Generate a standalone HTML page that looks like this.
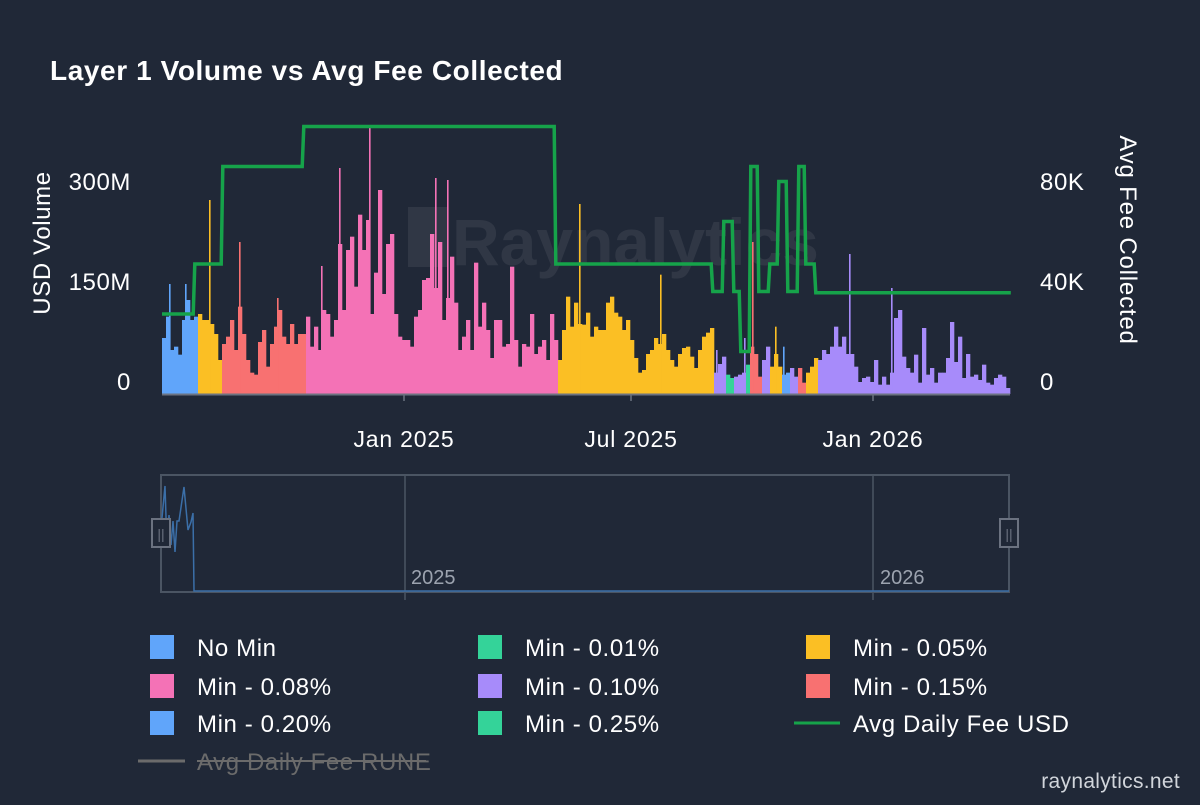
<!DOCTYPE html>
<html><head><meta charset="utf-8"><style>
html,body{margin:0;padding:0;background:#202837;}
body{width:1200px;height:800px;overflow:hidden;font-family:"Liberation Sans",sans-serif;}
svg text{font-family:"Liberation Sans",sans-serif;}
</style></head><body>
<svg id="chart" width="1200" height="800" xmlns="http://www.w3.org/2000/svg">
<rect width="1200" height="800" fill="#202837"/>
<text x="50" y="80" font-size="28" font-weight="bold" letter-spacing="0.6" fill="#ffffff">Layer 1 Volume vs Avg Fee Collected</text>
<g opacity="0.07">
<rect x="408" y="207" width="40" height="60" fill="#ffffff"/>
<text x="452" y="265" font-size="66" font-weight="bold" fill="#ffffff">Raynalytics</text>
</g>
<g id="bars"></g>
<g id="spikes"></g>
<path id="feeLine" fill="none" stroke="#16a34a" stroke-width="3.5" stroke-linejoin="miter"/>
<line x1="162" y1="394.5" x2="1010" y2="394.5" stroke="#6b7280" stroke-width="2"/>
<g id="xticks"></g>
<g id="yleft"></g>
<g id="yright"></g>
<text transform="translate(50,243) rotate(-90)" text-anchor="middle" font-size="24" letter-spacing="0.6" fill="#ffffff">USD Volume</text>
<text transform="translate(1120,240) rotate(90)" text-anchor="middle" font-size="24" letter-spacing="0.8" fill="#ffffff">Avg Fee Collected</text>
<g>
<rect x="161" y="475" width="848" height="117" fill="none" stroke="#4b5563" stroke-width="2"/>
<line x1="405" y1="475" x2="405" y2="600" stroke="#4b5563" stroke-width="1.5"/>
<line x1="873" y1="475" x2="873" y2="600" stroke="#4b5563" stroke-width="1.5"/>
<text x="411" y="584" font-size="20" fill="#9ca3af">2025</text>
<text x="880" y="584" font-size="20" fill="#9ca3af">2026</text>
<polyline points="162,518 165,486 167,548 169,515 171,545 173,521 175,552 177,521 179,521 184,487 188,530 191,522 193,513 194,591 1009,591" fill="none" stroke="#3b6fa8" stroke-width="1.5"/>
<rect x="152" y="519" width="18" height="28" fill="#202837" stroke="#6b7280" stroke-width="2"/>
<text x="161" y="539" font-size="14" fill="#6b7280" text-anchor="middle">||</text>
<rect x="1000" y="519" width="18" height="28" fill="#202837" stroke="#6b7280" stroke-width="2"/>
<text x="1009" y="539" font-size="14" fill="#6b7280" text-anchor="middle">||</text>
</g>
<g id="legend"></g>
<text x="1180" y="788" text-anchor="end" font-size="21" letter-spacing="0.3" fill="#d1d5db">raynalytics.net</text>
</svg>
<script>
const volumes = [84,116,66,71,59,111,141,111,116,120,111,111,105,90,51,75,86,111,66,131,90,51,32,29,78,96,41,75,101,126,86,75,105,75,90,90,116,71,101,66,126,120,86,111,225,126,216,236,161,269,216,261,120,182,306,150,225,240,120,86,81,81,71,116,126,171,174,240,159,228,111,144,206,137,66,86,111,66,197,101,137,96,54,111,111,71,75,191,81,41,75,71,120,60,71,81,51,120,81,51,96,146,101,137,105,104,122,86,101,96,96,137,146,122,116,96,111,81,54,32,36,60,66,84,75,90,66,51,41,60,69,71,56,39,66,86,92,99,32,45,56,29,24,26,29,32,44,71,60,26,51,71,41,60,41,29,32,39,26,39,17,32,41,54,51,66,60,71,101,71,86,60,60,41,18,24,26,18,51,14,26,14,32,114,126,56,39,32,59,17,99,29,39,17,32,32,54,108,48,86,24,60,26,29,21,44,17,14,24,29,26,9];
const tierStarts = [0,9,15,36,99,138,141,143,146,147,150,152,155,157,159,161,164];
const tierNames = ["No Min","Min - 0.05%","Min - 0.15%","Min - 0.08%","Min - 0.05%","Min - 0.10%","Min - 0.01%","Min - 0.10%","Min - 0.25%","Min - 0.15%","Min - 0.10%","Min - 0.05%","Min - 0.20%","Min - 0.10%","Min - 0.15%","Min - 0.05%","Min - 0.10%"];
const spikeIdx = [1.75,5.75,11.75,19.25,28.75,39.75,44.25,51.75,68.25,71.25,104.25,124.5,138.5,145.5,147.5,153.25,155.25,171.75,182.25];
const spikeVals = [165,165,291,228,144,192,339,401,324,321,285,179,66,84,228,101,71,210,159];
const feeIdx = [0,8,15,35.25,98.25,137.5,140.25,142.75,144.5,147,149,151.75,154,156.25,159,160.75,163.25,212];
const feeVals = [32,52,91,107,52,41,69,41,17,91,41,52,85,41,91,52,40.5,40.5];
const xTickIdx = [60.5,117.25,177.75];
const xTickLabels = ["Jan 2025","Jul 2025","Jan 2026"];
const leftTicks = [0,150,300];
const leftLabels = ["0","150M","300M"];
const rightTicks = [0,40,80];
const rightLabels = ["0","40K","80K"];
const legendNames = ["No Min","Min - 0.01%","Min - 0.05%","Min - 0.08%","Min - 0.10%","Min - 0.15%","Min - 0.20%","Min - 0.25%"];

const colors = {"No Min":"#60a5fa","Min - 0.01%":"#34d399","Min - 0.05%":"#fbbf24","Min - 0.08%":"#f472b6","Min - 0.10%":"#a78bfa","Min - 0.15%":"#f87171","Min - 0.20%":"#60a5fa","Min - 0.25%":"#34d399"};
const N = 212, X0 = 162, X1 = 1010, BASE = 394;
const bw = (X1 - X0) / N;
const xScale = i => X0 + i * bw;
const yVol = v => BASE - v / 1.5;
const yFee = f => BASE - f * 2.5;
const NS = "http://www.w3.org/2000/svg";
function tierAt(i){let t=0;for(let k=0;k<tierStarts.length;k++){if(i>=tierStarts[k])t=k;}return tierNames[t];}
function mk(tag,attrs,parent){const e=document.createElementNS(NS,tag);for(const k in attrs)e.setAttribute(k,attrs[k]);parent.appendChild(e);return e;}

const gb = document.getElementById('bars');
volumes.forEach((v,i)=>{
  const r = mk('rect',{x:xScale(i),y:yVol(v),width:bw+0.3,height:BASE-yVol(v),fill:colors[tierAt(i)]},gb);
  
  
});
const gs = document.getElementById('spikes');
spikeIdx.forEach((s,k)=>{
  const v = spikeVals[k];
  const r = mk('rect',{x:xScale(s),y:yVol(v),width:1.6,height:BASE-yVol(v),fill:colors[tierAt(Math.floor(s))]},gs);
  
  
});
let d = '';
feeIdx.forEach((s,k)=>{
  const x = xScale(s), y = yFee(feeVals[k]);
  if(k===0) d += 'M'+x+','+y;
  else d += ' L'+(x-0.8)+','+yFee(feeVals[k-1])+' L'+(x+0.8)+','+y;
});
document.getElementById('feeLine').setAttribute('d', d);

const gx = document.getElementById('xticks');
xTickIdx.forEach((s,k)=>{
  const x = xScale(s);
  const l = mk('line',{x1:x,y1:395,x2:x,y2:401,stroke:'#6b7280','stroke-width':1.5},gx);
  
  
  const t = mk('text',{x:x,y:447,'text-anchor':'middle','font-size':23,'letter-spacing':0.8,fill:'#ffffff'},gx);
  t.textContent = xTickLabels[k];
  
  
});
const gl = document.getElementById('yleft');
leftTicks.forEach((v,k)=>{
  const t = mk('text',{x:131,y:yVol(v)-4,'text-anchor':'end','font-size':24,'letter-spacing':0.6,fill:'#ffffff'},gl);
  t.textContent = leftLabels[k];
  
  
});
const gr = document.getElementById('yright');
rightTicks.forEach((v,k)=>{
  const t = mk('text',{x:1040,y:yFee(v)-4,'text-anchor':'start','font-size':24,'letter-spacing':0.6,fill:'#ffffff'},gr);
  t.textContent = rightLabels[k];
  
  
});
const lg = document.getElementById('legend');
const colX = [150,478,806], rowY = [647,686,723];
legendNames.forEach((n,k)=>{
  const cx = colX[k%3], cy = rowY[Math.floor(k/3)];
  const g = mk('g',{},lg);
  
  
  mk('rect',{x:cx,y:cy-12,width:24,height:24,fill:colors[n]},g);
  const t = mk('text',{x:cx+47,y:cy+9,'font-size':24,'letter-spacing':0.6,fill:'#ffffff'},g);
  t.textContent = n;
});
const gf = mk('g',{},lg);


mk('line',{x1:794,y1:723,x2:840,y2:723,stroke:'#16a34a','stroke-width':3},gf);
const tf = mk('text',{x:853,y:732,'font-size':24,'letter-spacing':0.6,fill:'#ffffff'},gf);
tf.textContent = 'Avg Daily Fee USD';
const gru = mk('g',{},lg);


mk('line',{x1:138,y1:761,x2:185,y2:761,stroke:'#6b6b6b','stroke-width':3},gru);
const tr = mk('text',{x:197,y:770,'font-size':24,'letter-spacing':0.6,fill:'#6b6b6b'},gru);
tr.textContent = 'Avg Daily Fee RUNE';
mk('line',{x1:197,y1:761,x2:426,y2:761,stroke:'#6b6b6b','stroke-width':2},gru);
</script>
</body></html>
